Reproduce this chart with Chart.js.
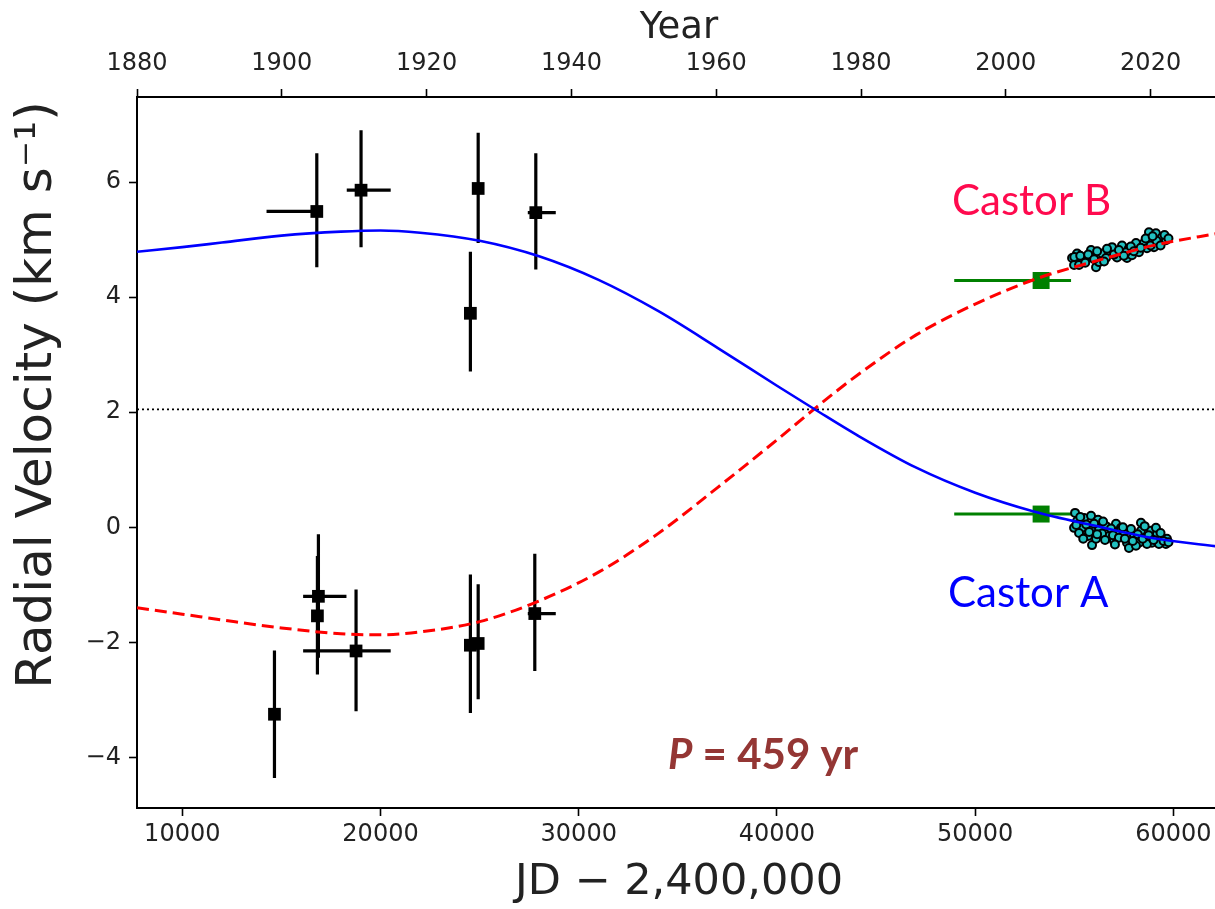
<!DOCTYPE html>
<html>
<head>
<meta charset="utf-8">
<script src="https://cdn.jsdelivr.net/npm/chart.js@4.4.1/dist/chart.umd.min.js"></script>
<style>
  html, body { margin: 0; padding: 0; background: #fff; overflow: hidden; }
  /* the plot runs a few px past the right edge of the 1215 window, as in the figure */
  #wrap { position: relative; width: 1240px; height: 909px; }
</style>
</head>
<body>
<div id="wrap"><canvas id="rv"></canvas></div>
<script>
/* Castor A/B radial velocities vs JD - 2,400,000 (orbit fits + data) */

// axis ranges / ticks
const jdMin = 7715.5, jdMax = 62400;          // 1880.0 ... ~2029.7
const vMin = -4.88, vMax = 7.48;
const jdTicks = [10000, 20000, 30000, 40000, 50000, 60000];
const yearTicks = [1880, 1900, 1920, 1940, 1960, 1980, 2000, 2020];
const vTicks = [-4, -2, 0, 2, 4, 6];
const vSys = 2.05;

// orbit fits
const fitJD = [7716, 10000, 12000, 15000, 18000, 20000, 22000, 25000, 28000, 31000, 34000,
               37000, 40000, 42000, 44000, 47000, 50000, 53000, 56000, 59000, 62400];
const fitA  = [4.79, 4.87, 4.95, 5.07, 5.14, 5.16, 5.12, 4.98, 4.71, 4.30, 3.76,
               3.12, 2.46, 2.03, 1.61, 1.04, 0.60, 0.27, 0.03, -0.19, -0.34];
const fitB  = [-1.40, -1.51, -1.61, -1.75, -1.85, -1.87, -1.82, -1.64, -1.28, -0.78, -0.11,
               0.69, 1.52, 2.09, 2.63, 3.34, 3.88, 4.31, 4.62, 4.90, 5.12];

// historical measurements (black squares) with error bars
const oldAJD   = [16786, 19018, 24927, 27834, 24534];
const oldAV    = [5.49, 5.86, 5.89, 5.47, 3.72];
const oldAVLo  = [4.52, 4.87, 4.94, 4.48, 2.71];
const oldAVHi  = [6.50, 6.90, 6.86, 6.50, 4.79];
const oldAJDLo = [14250, 18297, 24927, 27430, 24534];
const oldAJDHi = [16786, 20514, 24927, 28841, 24534];

const oldBJD   = [14650, 16867, 16817, 18766, 24534, 24927, 27783];
const oldBV    = [-3.25, -1.20, -1.54, -2.15, -2.05, -2.02, -1.50];
const oldBVLo  = [-4.36, -2.27, -2.56, -3.20, -3.23, -2.99, -2.50];
const oldBVHi  = [-2.14, -0.12, -0.50, -1.08, -0.82, -0.99, -0.46];
const oldBJDLo = [14650, 16096, 16817, 16096, 24534, 24927, 27430];
const oldBJDHi = [14650, 18282, 16817, 20514, 24534, 24927, 28841];

// mean of earlier modern data (green)
const midJD   = [53325, 53325];
const midV    = [0.23, 4.29];
const midJDLo = [48942, 48942];
const midJDHi = [54836, 54836];

// recent measurements (cyan)
const newAJD = [55038, 55139, 54988, 55491, 55390, 55844, 56197, 55894, 56247, 55894, 56096, 56600, 56751,
                57103, 57154, 57003, 57506, 57658, 57758, 58010, 58363, 58363, 58262, 58615, 58866, 58917,
                59169, 59421, 59622, 59270, 58665, 57355, 56398, 55239, 55693, 57859, 58111, 59118, 59672,
                55100, 55300, 55600, 55750, 56000, 56150, 56450, 56550, 56850, 56950, 57250, 57450, 57550,
                57950, 58200, 58450, 58550, 58750, 59000, 59350, 59500, 59750, 55450, 57050];
const newAV  = [0.25, 0.11, -0.01, 0.16, -0.01, 0.20, 0.13, -0.03, -0.03, -0.31, -0.20, 0.02, -0.15,
                0.06, -0.10, -0.24, -0.11, -0.27, -0.36, -0.15, 0.08, -0.06, -0.27, -0.18, -0.06, -0.27,
                -0.11, -0.20, -0.29, -0.29, -0.29, -0.01, -0.11, -0.10, -0.15, -0.03, -0.32, -0.01, -0.20,
                0.04, 0.18, 0.05, -0.08, 0.06, -0.12, 0.10, -0.22, -0.02, -0.14, -0.18, 0.00, -0.20,
                -0.24, -0.12, -0.20, 0.02, -0.14, -0.22, -0.10, -0.24, -0.26, -0.20, -0.30];
const newBJD = [54887, 54988, 55139, 55390, 55844, 55894, 56096, 56247, 56398, 56751, 56902, 57154, 57406,
                57658, 57758, 58111, 58262, 58514, 58665, 58766, 58917, 59118, 59270, 59421, 59622, 55239,
                56600, 57909, 59018, 57607, 55000, 55300, 55550, 55700, 56000, 56150, 56500, 56650, 57000,
                57250, 57500, 57850, 58000, 58350, 58600, 58850, 59150, 59350, 59550, 59750, 58950];
const newBV  = [4.68, 4.56, 4.76, 4.64, 4.82, 4.69, 4.52, 4.61, 4.76, 4.78, 4.87, 4.69, 4.90,
                4.68, 4.85, 4.94, 4.78, 4.94, 4.85, 5.13, 4.99, 5.11, 4.94, 5.04, 4.99, 4.56,
                4.68, 4.73, 4.87, 4.78, 4.70, 4.72, 4.60, 4.74, 4.66, 4.80, 4.62, 4.84, 4.74,
                4.82, 4.72, 4.88, 4.80, 4.86, 5.02, 4.90, 4.98, 4.90, 5.08, 5.02, 5.06];

const AX_FONT = 'DejaVu Sans';
const NOTE_FONT = 'Lato';

const pts = (xs, ys) => xs.map((x, i) => ({ x, y: ys[i] }));
// error bars as one line dataset, each segment split by a gap point
function errSegs(xs, ys, xLo, xHi, yLo, yHi) {
  const out = [];
  xs.forEach((x, i) => {
    if (yLo) out.push({ x, y: yLo[i] }, { x, y: yHi[i] }, { x, y: null });
    if (xLo && xLo[i] !== xHi[i]) out.push({ x: xLo[i], y: ys[i] }, { x: xHi[i], y: ys[i] }, { x, y: null });
  });
  return out;
}
function lineSet(data, color, width, dash) {
  return { type: 'line', data, borderColor: color, borderWidth: width, borderDash: dash || [],
           pointRadius: 0, fill: false, spanGaps: false, borderCapStyle: 'butt' };
}

const datasets = [
  Object.assign(lineSet(pts(fitJD, fitA), '#0000ff', 2.6), { cubicInterpolationMode: 'monotone' }),
  Object.assign(lineSet(pts(fitJD, fitB), '#ff0000', 3, [12, 6]), { cubicInterpolationMode: 'monotone' }),
  { type: 'scatter', data: pts(newAJD, newAV), pointRadius: 4, pointBorderWidth: 2,
    backgroundColor: '#22c0c0', borderColor: '#000' },
  { type: 'scatter', data: pts(newBJD, newBV), pointRadius: 4, pointBorderWidth: 2,
    backgroundColor: '#22c0c0', borderColor: '#000' },
  { type: 'scatter', data: pts(midJD, midV), pointStyle: 'rect', pointRadius: 12,
    backgroundColor: '#008000', borderColor: '#008000', pointBorderWidth: 0 },
  lineSet(errSegs(midJD, midV, midJDLo, midJDHi), '#008000', 3),
  { type: 'scatter', data: pts(oldAJD, oldAV).concat(pts(oldBJD, oldBV)), pointStyle: 'rect',
    pointRadius: 9, backgroundColor: '#000', borderColor: '#000', pointBorderWidth: 0 },
  lineSet(errSegs(oldAJD, oldAV, oldAJDLo, oldAJDHi, oldAVLo, oldAVHi), '#000', 3.2),
  lineSet(errSegs(oldBJD, oldBV, oldBJDLo, oldBJDHi, oldBVLo, oldBVHi), '#000', 3.2),
  lineSet([{ x: jdMin, y: vSys }, { x: jdMax, y: vSys }], '#000', 1.6, [2, 3]),
];

// text notes placed in data coordinates (left edge, baseline)
const notes = [
  { parts: [['Castor B', 'normal']], x: 48830, y: 5.43, color: '#ff0a4e', size: 42 },
  { parts: [['Castor A', 'normal']], x: 48630, y: -1.39, color: '#0000ff', size: 42 },
  { parts: [['P', 'italic bold'], [' = 459 yr', 'bold']], x: 34503, y: -4.20, color: '#943634', size: 42 },
];
const notePlugin = {
  id: 'notes',
  afterDatasetsDraw(chart) {
    const { ctx, scales } = chart;
    notes.forEach(n => {
      let px = scales.x.getPixelForValue(n.x);
      const py = scales.y.getPixelForValue(n.y);
      ctx.save();
      ctx.fillStyle = n.color;
      ctx.textBaseline = 'alphabetic';
      n.parts.forEach(([t, st]) => {
        ctx.font = `${st} ${n.size}px ${NOTE_FONT}`;
        ctx.fillText(t, px, py);
        px += ctx.measureText(t).width;
      });
      ctx.restore();
    });
  },
};
// y title sits a bit above the middle of the axis in the figure, so it is drawn by hand
const yTitle = { text: 'Radial Velocity (km s\u207B\u00B9)', size: 50, cx: 38, cy: 395 };
const yTitlePlugin = {
  id: 'ytitle',
  afterDraw(chart) {
    const { ctx } = chart;
    ctx.save();
    ctx.translate(yTitle.cx, yTitle.cy);
    ctx.rotate(-Math.PI / 2);
    ctx.font = `${yTitle.size}px ${AX_FONT}`;
    ctx.fillStyle = '#222';
    ctx.textAlign = 'center';
    ctx.textBaseline = 'middle';
    ctx.fillText(yTitle.text, 0, 0);
    ctx.restore();
  },
};

const tickGrid = { display: true, drawOnChartArea: false, drawTicks: true, tickLength: 8,
                   tickWidth: 1.6, tickColor: '#000' };
const border = { display: true, color: '#000', width: 2 };
const tickFont = { family: AX_FONT, size: 24 };
const minus = v => (v < 0 ? '\u2212' + Math.abs(v) : String(v));
const fixTicks = vals => scale => { scale.ticks = vals.map(value => ({ value })); };

new Chart(document.getElementById('rv'), {
  type: 'scatter',
  data: { datasets },
  options: {
    responsive: true, maintainAspectRatio: false, animation: false,
    layout: { padding: { left: 0, right: 19, top: 0, bottom: 0 } },
    plugins: { legend: { display: false }, tooltip: { enabled: false } },
    events: [],
    scales: {
      x: {
        type: 'linear', position: 'bottom', min: jdMin, max: jdMax,
        grid: tickGrid, border,
        afterBuildTicks: fixTicks(jdTicks),
        afterFit: s => { s.height = 101; },
        ticks: { font: tickFont, color: '#222', padding: 4, maxRotation: 0, callback: v => String(v) },
        title: { display: true, text: 'JD \u2212 2,400,000', color: '#222',
                 font: { family: AX_FONT, size: 43 }, padding: { top: 0, bottom: 0 } },
      },
      x2: {
        type: 'linear', position: 'top', min: 1880, max: 1880 + (jdMax - jdMin) / 365.25,
        grid: tickGrid, border,
        afterBuildTicks: fixTicks(yearTicks),
        afterFit: s => { s.height = 97; },
        ticks: { font: tickFont, color: '#222', padding: 11, maxRotation: 0, callback: v => String(v) },
        title: { display: true, text: 'Year', color: '#222',
                 font: { family: AX_FONT, size: 37 }, padding: { top: 6, bottom: 0 } },
      },
      y: {
        type: 'linear', position: 'left', min: vMin, max: vMax,
        grid: tickGrid, border,
        afterBuildTicks: fixTicks(vTicks),
        afterFit: s => { s.width = 137; },
        ticks: { font: tickFont, color: '#222', padding: 8, callback: minus },
        title: { display: false },
      },
    },
  },
  plugins: [notePlugin, yTitlePlugin],
});
</script>
</body>
</html>
